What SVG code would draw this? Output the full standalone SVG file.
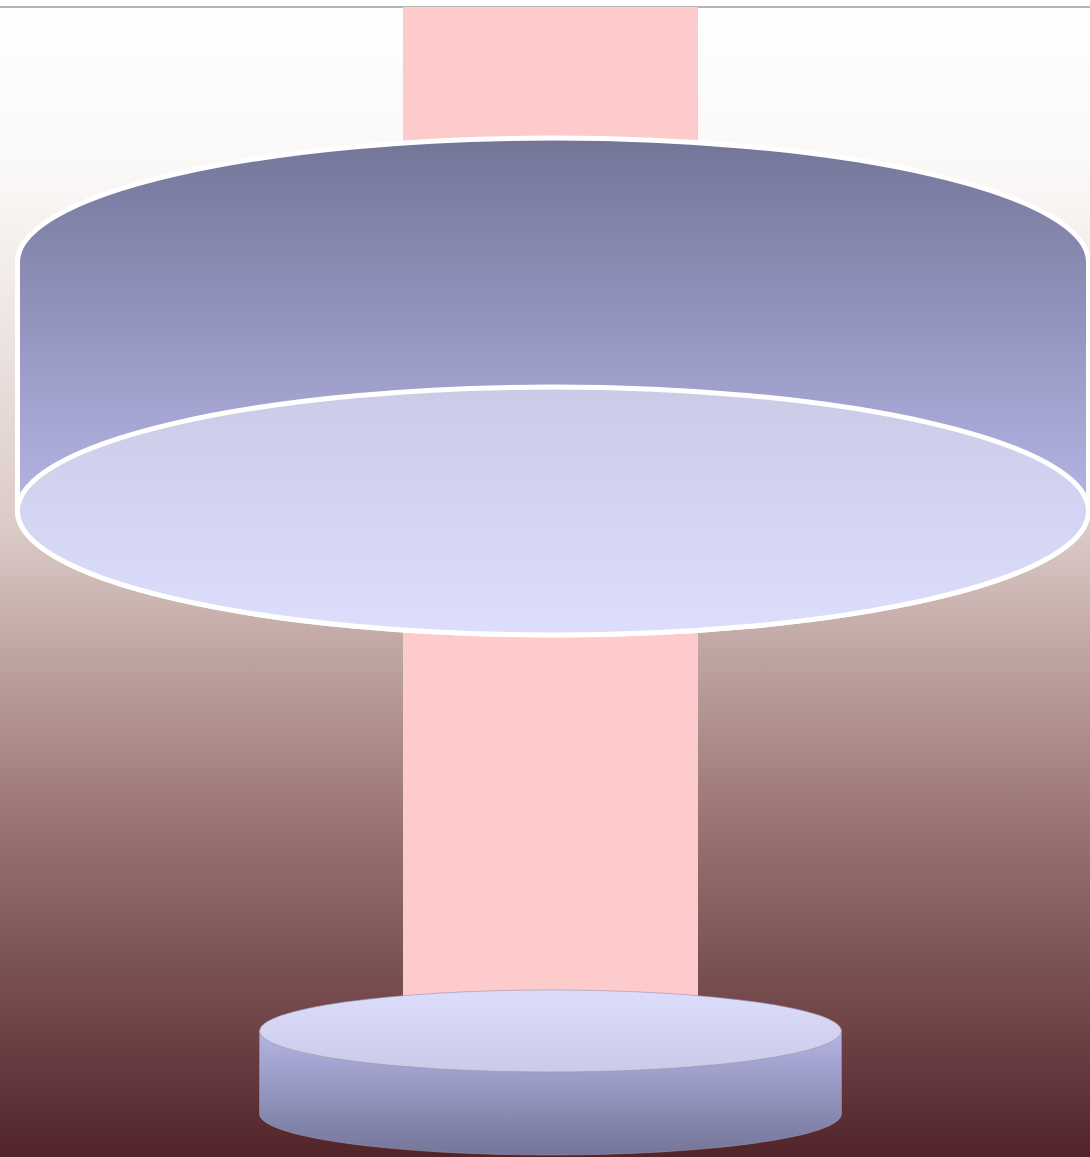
<svg xmlns="http://www.w3.org/2000/svg" width="1090" height="1157" viewBox="0 0 1090 1157">
  <defs>
    <linearGradient id="bg" x1="0" y1="7" x2="0" y2="1157" gradientUnits="userSpaceOnUse">
      <stop offset="0" stop-color="#ffffff"/>
      <stop offset="0.15" stop-color="#faf8f7"/>
      <stop offset="0.45" stop-color="#dccbc7"/>
      <stop offset="0.7" stop-color="#9c7775"/>
      <stop offset="1" stop-color="#52242a"/>
    </linearGradient>
    <linearGradient id="bigBody" x1="0" y1="138" x2="0" y2="511" gradientUnits="userSpaceOnUse">
      <stop offset="0" stop-color="#737598"/>
      <stop offset="1" stop-color="#b5b5e6"/>
    </linearGradient>
    <linearGradient id="bigFace" x1="0" y1="387" x2="0" y2="635" gradientUnits="userSpaceOnUse">
      <stop offset="0" stop-color="#cbcbe7"/>
      <stop offset="1" stop-color="#dcdefc"/>
    </linearGradient>
    <linearGradient id="smallTop" x1="0" y1="990" x2="0" y2="1072" gradientUnits="userSpaceOnUse">
      <stop offset="0" stop-color="#dcdcfc"/>
      <stop offset="1" stop-color="#cbcbe8"/>
    </linearGradient>
    <linearGradient id="smallBody" x1="0" y1="1031" x2="0" y2="1155" gradientUnits="userSpaceOnUse">
      <stop offset="0" stop-color="#b5b5e6"/>
      <stop offset="1" stop-color="#737598"/>
    </linearGradient>
  </defs>
  <style>
    .big { stroke: #ffffff; stroke-width: 5; }
    .small { stroke: #9a90a8; stroke-width: 0.6; }
  </style>
  <rect x="0" y="7" width="1090" height="1150" fill="url(#bg)"/>
  <line x1="0" y1="7" x2="1090" y2="7" stroke="#6e6e62" stroke-width="1"/>
  <g id="column">
    <rect x="403" y="7" width="295" height="995" fill="#fdcbcb"/>
  </g>
  <g id="big-cylinder">
    <path class="big" fill="url(#bigBody)" d="M17.5,262 A535.5,124 0 0 1 1088.5,262 L1088.5,511 A535.5,124 0 0 1 17.5,511 Z"/>
    <ellipse class="big" fill="url(#bigFace)" cx="553" cy="511" rx="535.5" ry="124"/>
  </g>
  <g id="small-cylinder">
    <path class="small" fill="url(#smallBody)" d="M259.5,1031 L259.5,1114 A291,41 0 0 0 841.5,1114 L841.5,1031 Z"/>
    <ellipse class="small" fill="url(#smallTop)" cx="550.5" cy="1031" rx="291" ry="41"/>
  </g>
  <g id="connectors"/>
</svg>
